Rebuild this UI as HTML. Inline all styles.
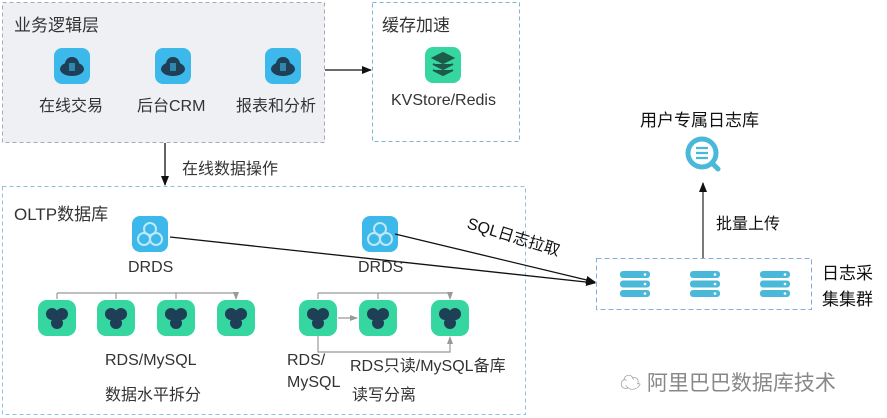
<!DOCTYPE html>
<html><head><meta charset="utf-8"><style>
body{margin:0;width:887px;height:418px;background:#fff;position:relative;overflow:hidden;font-family:"Liberation Sans","Noto Sans CJK SC",sans-serif;color:#333}
.t{position:absolute;white-space:nowrap;font-size:16px}
</style></head><body>
<svg width="887" height="418" style="position:absolute;left:0;top:0">
<defs>
<marker id="a" markerWidth="10" markerHeight="8" refX="9" refY="4" orient="auto" markerUnits="userSpaceOnUse"><path d="M0,0L10,4L0,8z" fill="#111"/></marker>
<marker id="g" markerWidth="8" markerHeight="6" refX="7" refY="3" orient="auto" markerUnits="userSpaceOnUse"><path d="M0,0L8,3L0,6z" fill="#999"/></marker>
<g id="cloud"><rect x="-18" y="-18" width="36" height="36" rx="8" fill="#3cb8ea"/><ellipse cx="0" cy="3" rx="12" ry="7" fill="#1e3f55"/><circle cx="0" cy="-2" r="7" fill="#1e3f55"/><rect x="-3" y="-3" width="6" height="8" fill="#3cb8ea" opacity=".6"/></g>
<g id="rds"><rect x="-19" y="-18" width="38" height="36" rx="9" fill="#35d6a0"/><circle cx="-5" cy="-4" r="6" fill="#1e3f55"/><circle cx="5" cy="-4" r="6" fill="#1e3f55"/><circle cx="0" cy="5" r="6" fill="#1e3f55"/></g>
<g id="drds"><rect x="-18" y="-18" width="36" height="36" rx="8" fill="#3cb8ea"/><circle cx="0" cy="-5" r="6" fill="none" stroke="#bfe8f8" stroke-width="2"/><circle cx="-6" cy="5" r="6" fill="none" stroke="#bfe8f8" stroke-width="2"/><circle cx="6" cy="5" r="6" fill="none" stroke="#bfe8f8" stroke-width="2"/></g>
<g id="srv"><rect x="-15" y="-13" width="30" height="7" rx="3" fill="#4ab9d9"/><rect x="-15" y="-3.5" width="30" height="7" rx="3" fill="#4ab9d9"/><rect x="-15" y="6" width="30" height="7" rx="3" fill="#4ab9d9"/><circle cx="10" cy="-9.5" r="1.3" fill="#fff"/><circle cx="10" cy="0" r="1.3" fill="#fff"/><circle cx="10" cy="9.5" r="1.3" fill="#fff"/></g>
</defs>
<rect x="2.5" y="2.5" width="322" height="140" fill="#eef0f4" stroke="#aaa" stroke-dasharray="4,3"/>
<rect x="372.5" y="2.5" width="147" height="139" fill="#fff" stroke="#7fb3d0" stroke-dasharray="4,3"/>
<rect x="2.5" y="186.5" width="523" height="228" fill="#fff" stroke="#8fc1dc" stroke-dasharray="4,3"/>
<rect x="596.5" y="258.5" width="215" height="51" fill="#fff" stroke="#8aaad8" stroke-dasharray="5,3"/>
<use href="#cloud" x="72" y="66"/><use href="#cloud" x="173" y="66"/><use href="#cloud" x="283" y="66"/>
<rect x="425" y="47" width="36" height="36" rx="8" fill="#35d6a0"/>
<path d="M433,58l10,-5l10,5l-10,5z M433,64l10,5l10,-5 M433,70l10,5l10,-5" fill="#1e5a4a" stroke="#1e5a4a" stroke-width="2"/>
<line x1="325" y1="70" x2="371" y2="70" stroke="#111" stroke-width="1.3" marker-end="url(#a)"/>
<line x1="165" y1="143" x2="165" y2="185" stroke="#111" stroke-width="1.3" marker-end="url(#a)"/>
<use href="#drds" x="150" y="234"/><use href="#drds" x="380" y="234"/>
<g stroke="#999" fill="none" stroke-width="1.2">
<path d="M57,293H236"/><path d="M57,293V299M116,293V299M176,293V299M236,293V299" marker-end="url(#g)"/>
<path d="M318,293H450"/><path d="M318,293V299M378,293V299M450,293V299" marker-end="url(#g)"/>
<path d="M338,318H357" marker-end="url(#g)"/>
<path d="M318,336V352H450V337" marker-end="url(#g)"/>
</g>
<use href="#rds" x="57" y="318"/><use href="#rds" x="116" y="318"/><use href="#rds" x="176" y="318"/><use href="#rds" x="236" y="318"/>
<use href="#rds" x="318" y="318"/><use href="#rds" x="378" y="318"/><use href="#rds" x="450" y="318"/>
<line x1="170" y1="237" x2="595" y2="283" stroke="#111" stroke-width="1.3" marker-end="url(#a)"/>
<line x1="395" y1="234" x2="595" y2="282" stroke="#111" stroke-width="1.3" marker-end="url(#a)"/>
<use href="#srv" x="635" y="284"/><use href="#srv" x="705" y="284"/><use href="#srv" x="775" y="284"/>
<line x1="703" y1="258" x2="703" y2="183" stroke="#333" stroke-width="1.3" marker-end="url(#a)"/>
<circle cx="702" cy="153" r="14" fill="none" stroke="#4ab9d9" stroke-width="5"/>
<line x1="712" y1="163" x2="718" y2="169" stroke="#4ab9d9" stroke-width="5" stroke-linecap="round"/>
<path d="M696,148h12M696,153h12M696,158h12" stroke="#4ab9d9" stroke-width="2.2"/>
<text x="512" y="242" transform="rotate(17 512 242)" text-anchor="middle" font-size="16" fill="#111" font-family="Liberation Sans,Noto Sans CJK SC,sans-serif">SQL日志拉取</text>
</svg>
<div class="t" style="left:14px;top:11px;font-size:17px">业务逻辑层</div>
<div class="t" style="left:39px;top:92px">在线交易</div>
<div class="t" style="left:137px;top:92px">后台CRM</div>
<div class="t" style="left:236px;top:92px">报表和分析</div>
<div class="t" style="left:382px;top:11px;font-size:17px">缓存加速</div>
<div class="t" style="left:391px;top:92px">KVStore/Redis</div>
<div class="t" style="left:182px;top:155px">在线数据操作</div>
<div class="t" style="left:14px;top:200px;font-size:17px">OLTP数据库</div>
<div class="t" style="left:128px;top:259px">DRDS</div>
<div class="t" style="left:358px;top:259px">DRDS</div>
<div class="t" style="left:105px;top:352px">RDS/MySQL</div>
<div class="t" style="left:105px;top:381px">数据水平拆分</div>
<div class="t" style="left:287px;top:352px">RDS/</div>
<div class="t" style="left:287px;top:374px">MySQL</div>
<div class="t" style="left:350px;top:352px">RDS只读/MySQL备库</div>
<div class="t" style="left:352px;top:381px">读写分离</div>
<div class="t" style="left:640px;top:106px;font-size:17px;color:#111">用户专属日志库</div>
<div class="t" style="left:716px;top:210px;color:#111">批量上传</div>
<div class="t" style="left:822px;top:261px;font-size:17px;color:#111;line-height:26px">日志采<br>集集群</div>
<div class="t" style="left:620px;top:367px;font-size:21px;color:#888">☁ 阿里巴巴数据库技术</div>
</body></html>
